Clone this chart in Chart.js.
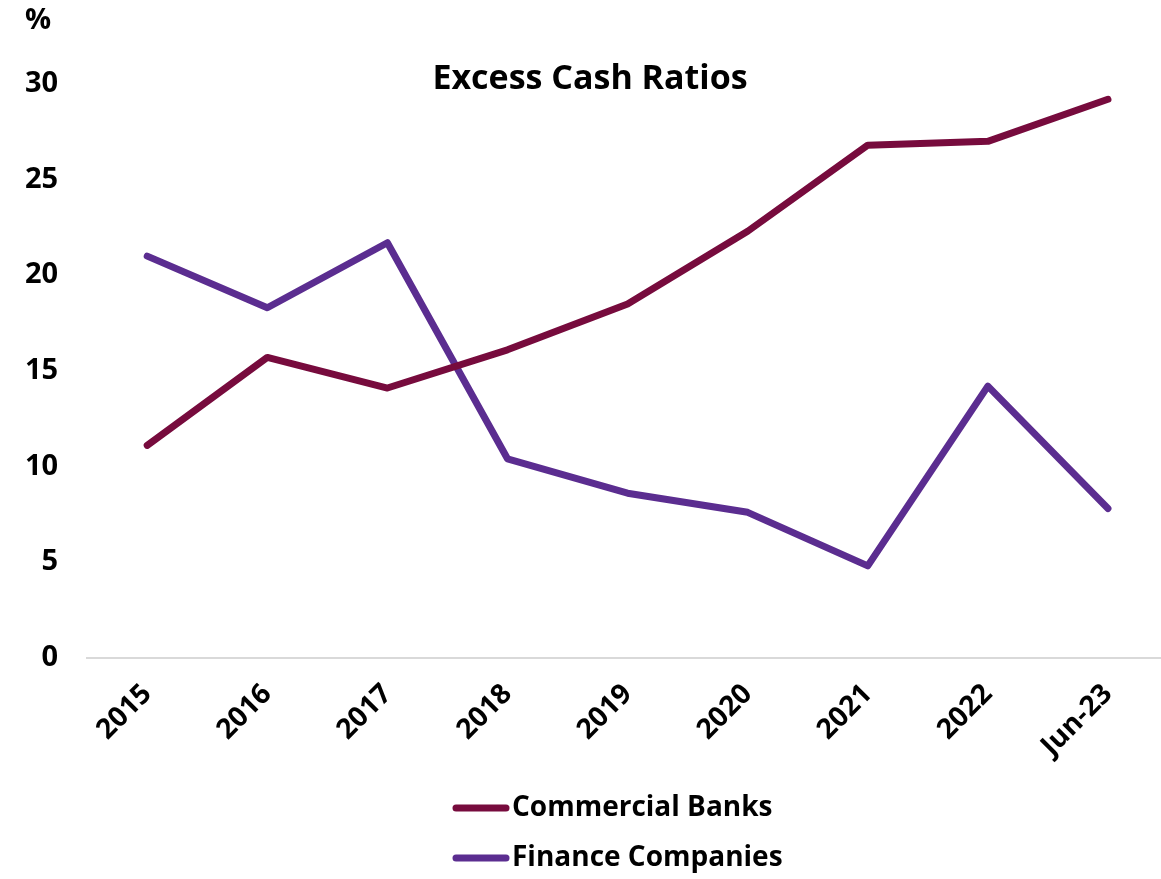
<!DOCTYPE html>
<html lang="en">
<head>
  <meta charset="UTF-8">
  <title>Excess Cash Ratios</title>
  <script src="https://cdn.jsdelivr.net/npm/chart.js"></script>
  <style>
    html, body { margin: 0; padding: 0; background: #fff; overflow: hidden; }
    #wrap { width: 1170px; height: 879px; position: relative; }
  </style>
</head>
<body>
  <div id="wrap"><canvas id="cashChart"></canvas></div>

  <script>
    // Excess cash ratios (%)
    const periods = ['2015', '2016', '2017', '2018', '2019', '2020', '2021', '2022', 'Jun-23'];
    const commercialBanks = [11.1, 15.7, 14.1, 16.1, 18.5, 22.3, 26.8, 27.0, 29.2];
    const financeCompanies = [21.0, 18.3, 21.7, 10.4, 8.6, 7.6, 4.8, 14.2, 7.8];
    const yTicks = [0, 5, 10, 15, 20, 25, 30];

    const FONT = "'Open Sans', 'DejaVu Sans', sans-serif";
    const MAROON = '#770b3d';
    const PURPLE = '#5b2d90';

    // title, unit label and a stacked legend (one series per row)
    const overlayText = {
      id: 'overlayText',
      afterDraw(chart) {
        const { ctx, chartArea } = chart;
        ctx.save();
        ctx.fillStyle = '#000';
        ctx.textBaseline = 'middle';
        ctx.font = 'bold 34px ' + FONT;
        ctx.textAlign = 'center';
        ctx.fillText('Excess Cash Ratios', 590, chartArea.top - 5);

        ctx.font = 'bold 29px ' + FONT;
        ctx.textAlign = 'left';
        ctx.fillText('%', 25, 21);

        ctx.font = 'bold 28px ' + FONT;
        ctx.lineWidth = 7;
        ctx.lineCap = 'round';
        chart.data.datasets.forEach((ds, i) => {
          const y = 808 + i * 50;
          ctx.strokeStyle = ds.borderColor;
          ctx.beginPath();
          ctx.moveTo(456, y);
          ctx.lineTo(506, y);
          ctx.stroke();
          ctx.fillText(ds.label, 512, y);
        });
        ctx.restore();
      }
    };

    const ctx = document.getElementById('cashChart').getContext('2d');
    new Chart(ctx, {
      type: 'line',
      data: {
        labels: periods,
        datasets: [{
          label: 'Commercial Banks',
          data: commercialBanks,
          borderColor: MAROON,
          backgroundColor: MAROON,
          borderWidth: 7,
          borderCapStyle: 'round',
          borderJoinStyle: 'round',
          pointRadius: 0,
          tension: 0
        }, {
          label: 'Finance Companies',
          data: financeCompanies,
          borderColor: PURPLE,
          backgroundColor: PURPLE,
          borderWidth: 7,
          borderCapStyle: 'round',
          borderJoinStyle: 'round',
          pointRadius: 0,
          tension: 0
        }]
      },
      options: {
        responsive: true,
        maintainAspectRatio: false,
        animation: false,
        layout: { padding: { top: 84, left: -4, right: 2, bottom: 96 } },
        plugins: {
          title: { display: false },
          tooltip: { enabled: false },
          legend: { display: false }
        },
        scales: {
          x: {
            offset: true,
            grid: { display: false, drawTicks: false },
            border: { display: true, color: '#d9d9d9', width: 2 },
            ticks: {
              color: '#000',
              font: { family: FONT, size: 28, weight: 'bold' },
              minRotation: 45,
              maxRotation: 45,
              padding: 20
            }
          },
          y: {
            min: 0,
            max: 30,
            afterBuildTicks(axis) {
              axis.ticks = yTicks.map(v => ({ value: v }));
            },
            grid: { display: false, drawTicks: false },
            border: { display: false },
            ticks: {
              color: '#000',
              font: { family: FONT, size: 29, weight: 'bold' },
              padding: 29
            }
          }
        }
      },
      plugins: [overlayText]
    });
  </script>
</body>
</html>
